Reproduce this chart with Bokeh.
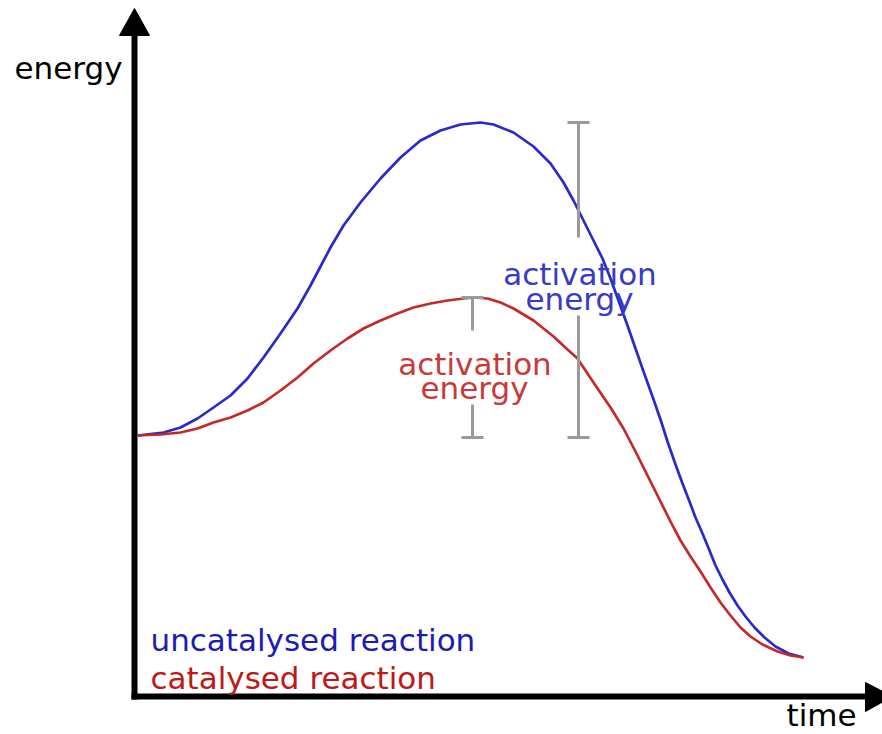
from bokeh.plotting import figure
from bokeh.models import Range1d
from bokeh.core.properties import value
from bokeh.embed import file_html
from bokeh.resources import INLINE

# ---- data (time, energy) ----
blue_t = [3, 29, 46, 63, 79, 96, 113, 129, 146, 163, 176, 186, 196, 209, 226, 246, 266, 286, 306, 326,
          346, 359, 379, 399, 416, 429, 439, 449, 459, 468, 476, 484, 493, 501, 509, 518, 526, 533, 541, 548,
          555, 561, 568, 575, 581, 588, 595, 603, 611, 620, 630, 641, 654, 669]
blue_e = [261, 264, 269, 278, 289, 301, 318, 339, 363, 388, 411, 430, 449, 471, 494, 518, 539, 556, 566, 572,
          574, 572, 564, 550, 533, 514, 496, 476, 456, 438, 418, 396, 371, 348, 325, 300, 277, 255, 232, 213,
          195, 179, 163, 146, 131, 117, 104, 91, 80, 69, 59, 50, 43, 39]
red_t = [3, 26, 46, 63, 79, 96, 113, 129, 146, 163, 179, 196, 213, 229, 246, 263, 279, 296, 313, 329,
         341, 353, 366, 379, 399, 419, 433, 443, 459, 476, 489, 501, 509, 518, 526, 536, 546, 556, 566, 576,
         586, 596, 606, 616, 628, 643, 656, 669]
red_e = [261, 262, 264, 268, 274, 279, 286, 294, 306, 319, 333, 346, 358, 368, 376, 383, 389, 393, 396, 398,
         399, 398, 394, 388, 376, 360, 347, 338, 314, 289, 268, 245, 229, 211, 195, 175, 156, 140, 125, 109,
         94, 81, 69, 60, 52, 45, 41, 39]

# activation-energy brackets: x position, top, bottom, and the gap left for the label
bracket_t = [444, 338]
bracket_top = [574, 399]
bracket_bottom = [259, 259]
gap_top = [459, 366]
gap_bottom = [381, 292]

labels = ["uncatalysed reaction", "catalysed reaction"]
axis_labels = ["energy", "time"]

BLUE = "#2a2acc"
RED = "#c42a2a"
GRAY = "#9a9a9a"
FONT = "DejaVu Sans"

p = figure(width=882, height=734, output_backend="svg", toolbar_location=None,
           x_range=Range1d(-134, 748), y_range=Range1d(-38, 696), min_border=0)
p.axis.visible = False
p.grid.visible = False
p.outline_line_color = None
p.background_fill_color = "white"
p.border_fill_color = "white"

# axes with arrow heads
p.segment(x0=[0, -3], y0=[-3, 0], x1=[0, 731], y1=[661, 0], line_color="black", line_width=6)
p.patches(xs=[[-15, 15, 0], [731, 731, 758]], ys=[[661, 661, 688], [14, -15, 0]],
          fill_color="black", line_color="black", line_width=1)

# curves
p.line(blue_t, blue_e, line_color=BLUE, line_width=2.7, line_join="round")
p.line(red_t, red_e, line_color=RED, line_width=2.7, line_join="round")

# brackets
seg_x = bracket_t + bracket_t
seg_y0 = bracket_top + gap_bottom
seg_y1 = gap_top + bracket_bottom
p.segment(x0=seg_x, y0=seg_y0, x1=seg_x, y1=seg_y1, line_color=GRAY, line_width=3)
cap_x = bracket_t + bracket_t
cap_y = bracket_top + bracket_bottom
p.segment(x0=[x - 11 for x in cap_x], y0=cap_y, x1=[x + 11 for x in cap_x], y1=cap_y,
          line_color=GRAY, line_width=3)

def txt(x, y, s, color, align="left", baseline="alphabetic"):
    p.text(x=[x], y=[y], text=[s], text_color=color, text_font=value(FONT),
           text_font_size="31px", text_align=align, text_baseline=baseline)

txt(-120, 629, axis_labels[0], "black")
txt(652, -36, axis_labels[1], "black", baseline="bottom")
txt(445.5, 423, "activation", "#3a3ac8", "center")
txt(445, 398, "energy", "#3a3ac8", "center")
txt(340.5, 333, "activation", "#c83a3a", "center")
txt(340, 309, "energy", "#c83a3a", "center")
txt(16, 57, labels[0], "#1c1cb4")
txt(16, 19, labels[1], "#c01818")

open("out.html", "w").write(file_html(p, INLINE))
